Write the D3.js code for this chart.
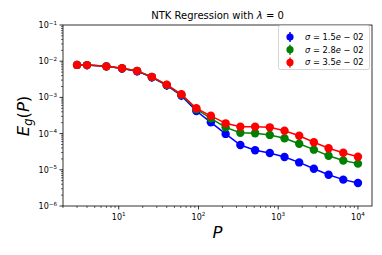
<!DOCTYPE html>
<html>
<head>
<meta charset="utf-8">
<script src="https://cdn.jsdelivr.net/npm/d3@7"></script>
<style>
html,body{margin:0;padding:0;background:#fff;}
svg{display:block;font-family:"DejaVu Sans",sans-serif;}
</style>
</head>
<body>
<svg id="chart" width="382" height="255"></svg>
<script>
// ---- data ----
const P = [3,4,7,11,17,26,40,61,94,143,219,335,513,784,1199,1832,2800,4281,6543,10000];
const seriesNames = ["1.5e \u2212 02","2.8e \u2212 02","3.5e \u2212 02"];
const blueVals  = [7.9e-3,7.8e-3,7.2e-3,6.3e-3,5.3e-3,3.6e-3,2.15e-3,1.12e-3,4.2e-4,2.05e-4,9.8e-5,4.84e-5,3.46e-5,2.9e-5,2.26e-5,1.6e-5,1.07e-5,7.3e-6,5.35e-6,4.3e-6];
const greenVals = [7.9e-3,7.8e-3,7.2e-3,6.4e-3,5.4e-3,3.65e-3,2.2e-3,1.18e-3,4.7e-4,2.65e-4,1.49e-4,1.06e-4,1.02e-4,9.2e-5,7.4e-5,5.25e-5,3.6e-5,2.45e-5,1.8e-5,1.48e-5];
const redVals   = [7.9e-3,7.8e-3,7.2e-3,6.4e-3,5.4e-3,3.7e-3,2.25e-3,1.22e-3,5.0e-4,3.1e-4,1.92e-4,1.55e-4,1.55e-4,1.49e-4,1.2e-4,8.75e-5,5.75e-5,3.93e-5,2.97e-5,2.3e-5];
const blueErr   = [1.8e-3,1.8e-3,1.7e-3,1.5e-3,1.3e-3,9e-4,5.5e-4,2.8e-4,9e-5,3e-5,1e-5,3e-6,1.5e-6,1e-6,8e-7,5e-7,3e-7,2e-7,1.5e-7,1e-7];
const greenErr  = [8e-4,8e-4,7e-4,6e-4,5e-4,3.5e-4,2e-4,1e-4,4e-5,1.5e-5,6e-6,3e-6,2e-6,1.5e-6,1e-6,7e-7,5e-7,3e-7,2e-7,1.5e-7];
const redErr    = [6e-4,6e-4,5.5e-4,5e-4,4e-4,2.8e-4,1.7e-4,9e-5,3.5e-5,1.5e-5,6e-6,4e-6,3e-6,2e-6,1.5e-6,1e-6,7e-7,5e-7,3e-7,2e-7];
const colors = ["#0000ff","#008000","#ff0000"];
const xTickExps = [1,2,3,4];
const yTickExps = [-6,-5,-4,-3,-2,-1];

const series = [
  {name: seriesNames[0], vals: blueVals,  err: blueErr,  color: colors[0]},
  {name: seriesNames[1], vals: greenVals, err: greenErr, color: colors[1]},
  {name: seriesNames[2], vals: redVals,   err: redErr,   color: colors[2]}
];

// ---- layout ----
const L = 63, R = 372, T = 25, B = 206;
const svg = d3.select("#chart");

const lx0 = Math.log10(d3.min(P)), lx1 = Math.log10(d3.max(P));
const pad = (lx1 - lx0) * 0.05;
const x = d3.scaleLog().domain([Math.pow(10, lx0 - pad), Math.pow(10, lx1 + pad)]).range([L, R]);
const y = d3.scaleLog().domain([1e-6, 1e-1]).range([B, T]);

svg.append("clipPath").attr("id","clip").append("rect")
  .attr("x", L).attr("y", T).attr("width", R-L).attr("height", B-T);

// ---- minor & major ticks ----
const axisG = svg.append("g");
function minorVals(domain){
  const out = [];
  const e0 = Math.floor(Math.log10(domain[0])), e1 = Math.ceil(Math.log10(domain[1]));
  for (let e = e0; e <= e1; e++) for (let m = 2; m <= 9; m++) {
    const v = m * Math.pow(10, e);
    if (v >= domain[0] && v <= domain[1]) out.push(v);
  }
  return out;
}
minorVals(x.domain()).forEach(v => {
  axisG.append("line").attr("x1", x(v)).attr("x2", x(v)).attr("y1", B).attr("y2", B+2)
    .attr("stroke","#000").attr("stroke-width",0.6);
});
minorVals(y.domain()).forEach(v => {
  axisG.append("line").attr("y1", y(v)).attr("y2", y(v)).attr("x1", L).attr("x2", L-2)
    .attr("stroke","#000").attr("stroke-width",0.6);
});
xTickExps.forEach(e => {
  const px = x(Math.pow(10, e));
  axisG.append("line").attr("x1", px).attr("x2", px).attr("y1", B).attr("y2", B+3.5)
    .attr("stroke","#000").attr("stroke-width",0.8);
  const t = axisG.append("text").attr("x", px).attr("y", B+13.5)
    .attr("text-anchor","middle").attr("font-size", 8).attr("fill","#000");
  t.append("tspan").text("10");
  t.append("tspan").attr("dy", -3.5).attr("font-size", 5.6).text(String(e).replace("-", "\u2212"));
});
yTickExps.forEach(e => {
  const py = y(Math.pow(10, e));
  axisG.append("line").attr("y1", py).attr("y2", py).attr("x1", L).attr("x2", L-3.5)
    .attr("stroke","#000").attr("stroke-width",0.8);
  const t = axisG.append("text").attr("x", L-6).attr("y", py+3)
    .attr("text-anchor","end").attr("font-size", 8).attr("fill","#000");
  t.append("tspan").text("10");
  t.append("tspan").attr("dy", -3.5).attr("font-size", 5.6).text(String(e).replace("-", "\u2212"));
});

// ---- data marks ----
const plotG = svg.append("g").attr("clip-path","url(#clip)");
const line = d3.line().x(d => x(d[0])).y(d => y(d[1]));
series.forEach(s => {
  const g = plotG.append("g");
  const pts = P.map((p,i) => [p, s.vals[i], s.err[i]]);
  g.selectAll("line.err").data(pts).enter().append("line")
    .attr("x1", d => x(d[0])).attr("x2", d => x(d[0]))
    .attr("y1", d => y(Math.max(d[1]-d[2], 1e-9))).attr("y2", d => y(d[1]+d[2]))
    .attr("stroke", s.color).attr("stroke-width", 1.5);
  g.append("path").datum(pts).attr("d", line).attr("fill","none")
    .attr("stroke", s.color).attr("stroke-width", 1.5);
  g.selectAll("circle").data(pts).enter().append("circle")
    .attr("cx", d => x(d[0])).attr("cy", d => y(d[1])).attr("r", 4.2)
    .attr("fill", s.color);
});

// ---- frame ----
svg.append("rect").attr("x", L).attr("y", T).attr("width", R-L).attr("height", B-T)
  .attr("fill","none").attr("stroke","#000").attr("stroke-width",0.8);

// ---- legend ----
const lg = svg.append("g");
lg.append("rect").attr("x", 278.5).attr("y", 25.5).attr("width", 91).attr("height", 44)
  .attr("rx", 2).attr("fill","#fff").attr("fill-opacity",0.8)
  .attr("stroke","#cccccc").attr("stroke-width",0.8);
series.forEach((s, i) => {
  const cy = 37 + i * 12.7;
  lg.append("line").attr("x1", 290).attr("x2", 290).attr("y1", cy-5).attr("y2", cy+5)
    .attr("stroke", s.color).attr("stroke-width", 1.5);
  lg.append("circle").attr("cx", 290).attr("cy", cy).attr("r", 3.6).attr("fill", s.color);
  const t = lg.append("text").attr("x", 305).attr("y", cy+3).attr("font-size", 8.3).attr("fill","#000");
  t.append("tspan").attr("font-style","italic").text("\u03C3");
  t.append("tspan").text(" = " + s.name.split("e")[0]);
  t.append("tspan").attr("font-style","italic").text("e");
  t.append("tspan").text(s.name.split("e")[1]);
});

// ---- title and axis labels ----
const tt = svg.append("text").attr("x", (L+R)/2).attr("y", 19).attr("text-anchor","middle")
  .attr("font-size", 10).attr("fill","#000");
tt.append("tspan").text("NTK Regression with ");
tt.append("tspan").attr("font-style","italic").text("\u03BB");
tt.append("tspan").text(" = 0");

svg.append("text").attr("x", (L+R)/2).attr("y", 238).attr("text-anchor","middle")
  .attr("font-size", 16.5).attr("font-style","italic").attr("fill","#000").text("P");

const yl = svg.append("text").attr("transform","translate(29,116) rotate(-90)")
  .attr("text-anchor","middle").attr("font-size", 16.5).attr("fill","#000");
yl.append("tspan").attr("font-style","italic").text("E");
yl.append("tspan").attr("font-style","italic").attr("font-size", 11.5).attr("dy", 3).text("g");
yl.append("tspan").attr("dy", -3).text("(");
yl.append("tspan").attr("font-style","italic").text("P");
yl.append("tspan").text(")");
</script>
</body>
</html>
